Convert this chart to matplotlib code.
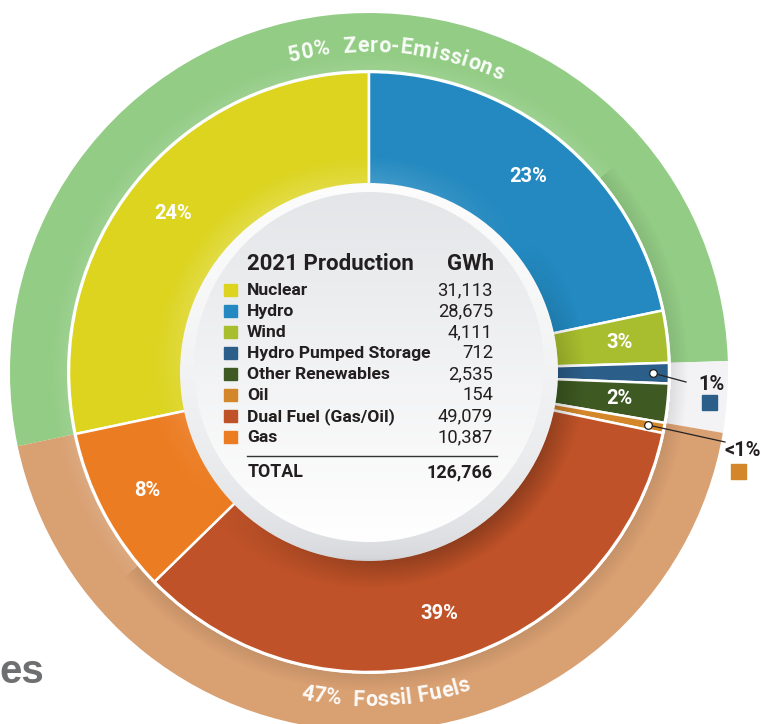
import numpy as np
import matplotlib
matplotlib.use("Agg")
import matplotlib.pyplot as plt
from matplotlib.patches import Circle, Rectangle
from matplotlib.font_manager import FontProperties

W, H = 761, 724

# table values as printed in the chart
sources = ["Nuclear", "Hydro", "Wind", "Hydro Pumped Storage", "Other Renewables",
           "Oil", "Dual Fuel (Gas/Oil)", "Gas"]
gwh = [31113, 28675, 4111, 712, 2535, 154, 49079, 10387]
total_gwh = 126766
pct_labels = ["24%", "23%", "3%", "1%", "2%", "<1%", "39%", "8%"]
# how much of the ring each slice takes in the drawing (%)
slice_share = [28.3, 21.7, 2.8, 1.1, 2.1, 0.55, 34.4, 9.0]
colors = ["#dcd41e", "#2389c0", "#a8be2e", "#2c5e8a", "#3e5a22",
          "#d4862a", "#bf5228", "#ec7c22"]
callout = [3, 5]  # slices labelled outside the ring

group_names = ["50%  Zero-Emissions", "", "47%  Fossil Fuels"]
group_members = [[0, 1, 2], [3, 4], [5, 6, 7]]
group_colors = ["#93cc85", "#f3f3f5", "#d9a072"]

TXT = "#231f20"
cx, cy = 369, H - 372

fig = plt.figure(figsize=(W / 100, H / 100), dpi=100)
ax = fig.add_axes([0, 0, 1, 1])

start = 90 + slice_share[0] / sum(slice_share) * 360
ring_share = [sum(slice_share[i] for i in m) for m in group_members]

ring, _ = ax.pie(ring_share, colors=group_colors, radius=359, center=(cx, cy),
                 startangle=start, counterclock=False,
                 wedgeprops=dict(width=57, linewidth=0))
wedges, _ = ax.pie(slice_share, colors=colors, radius=300, center=(cx, cy),
                   startangle=start, counterclock=False,
                   wedgeprops=dict(edgecolor="white", linewidth=1.8))

# shading: shadow at inner edge of ring, light/shadow band round the centre disk
yy, xx = np.mgrid[0:H, 0:W] + 0.5
dx, dy = xx - cx, yy - cy
rr = np.hypot(dx, dy)
th = np.arctan2(dy, dx)
ov = np.zeros((H, W, 4))
light = np.cos(th - np.deg2rad(130))
fade = np.clip(1 - (rr - 189) / 28, 0, 1) * (rr >= 189)
lit = light > 0
ov[..., :3] = np.where(lit[..., None], 1.0, 0.0)
ov[..., 3] = np.where(lit, 0.18 * light, 0.26 * -light) * fade
rs = np.clip(1 - (rr - 302) / 18, 0, 1) * (rr >= 302) * (rr <= 359)
ov[..., 3] = np.maximum(ov[..., 3], 0.09 * rs)
ax.imshow(ov, extent=(0, W, 0, H), origin="lower", zorder=2, interpolation="bilinear")

# percent labels
for w, lab, i in zip(wedges, pct_labels, range(len(wedges))):
    mid = np.deg2rad((w.theta1 + w.theta2) / 2)
    if i in callout:
        continue
    ax.text(cx + 252 * np.cos(mid), cy + 252 * np.sin(mid), lab, color="white",
            fontsize=14.5, weight="bold", family="Roboto", ha="center", va="center", zorder=5)

# callouts for the thin slices
ends = [(686, H - 382), (725, H - 442)]
text_pos = [(711, H - 390), (743, H - 456)]
sq_pos = [(702, H - 410), (731, H - 479)]
for k, i in enumerate(callout):
    w = wedges[i]
    mid = np.deg2rad((w.theta1 + w.theta2) / 2)
    px, py = cx + 284 * np.cos(mid), cy + 284 * np.sin(mid)
    ax.plot([px, ends[k][0]], [py, ends[k][1]], color="#222222", lw=0.9, zorder=6)
    ax.plot(px, py, "o", ms=5.5, mfc="white", mec="#222222", mew=0.9, zorder=7)
    ax.text(*text_pos[k], pct_labels[i], color=TXT, fontsize=14.5, weight="bold",
            family="Roboto", ha="center", va="baseline", zorder=6)
    ax.add_patch(Rectangle(sq_pos[k], 15, 15, color=colors[i], zorder=6))

# ring titles along the arc
rend = fig.canvas.get_renderer()


def arc_text(s, r, center_deg, top, fs, track=0.0):
    fp = FontProperties(family="Roboto", weight="bold", size=fs)
    base = rend.get_text_width_height_descent("ll", fp, ismath=False)[0]
    adv = [rend.get_text_width_height_descent("l" + c + "l", fp, ismath=False)[0] - base + track
           for c in s]
    total = sum(adv)
    pos = np.cumsum([0] + adv[:-1]) + np.array(adv) / 2 - total / 2
    for c, p in zip(s, pos):
        d = np.rad2deg(p / r)
        a = center_deg - d if top else center_deg + d
        ar = np.deg2rad(a)
        rot = a - 90 if top else a + 90
        ax.text(cx + r * np.cos(ar), cy + r * np.sin(ar), c, fontproperties=fp,
                color="white", alpha=0.95, rotation=rot, rotation_mode="anchor",
                ha="center", va="baseline", zorder=5)


arc_text(group_names[0], 320, 85, True, 15.5, 0.6)
arc_text(group_names[2], 334, -87, False, 15.5, 0.4)

# centre disk
grad = np.linspace(0, 1, 256)[:, None, None]
rim_bot, rim_top = np.array([0.80, 0.81, 0.83]), np.array([0.99, 0.99, 0.99])
face_bot, face_top = np.array([1.0, 1.0, 1.0]), np.array([0.895, 0.90, 0.91])
rim = rim_bot + (rim_top - rim_bot) * grad ** 0.35
face = face_bot + (face_top - face_bot) * grad
R1, R2 = 189, 175
im1 = ax.imshow(rim, extent=(cx - R1, cx + R1, cy - R1, cy + R1), origin="lower",
                zorder=6, interpolation="bilinear")
im1.set_clip_path(Circle((cx, cy), R1, transform=ax.transData))
fy = cy + 5
im2 = ax.imshow(face, extent=(cx - R2, cx + R2, fy - R2, fy + R2), origin="lower",
                zorder=7, interpolation="bilinear")
im2.set_clip_path(Circle((cx, fy), R2, transform=ax.transData))

# table
ax.text(247, H - 270, "2021 Production", fontsize=16, weight="bold", family="Roboto",
        color=TXT, va="baseline", zorder=8)
ax.text(494, H - 270, "GWh", fontsize=16, weight="bold", family="Roboto",
        color=TXT, ha="right", va="baseline", zorder=8)
for i, (name, val, col) in enumerate(zip(sources, gwh, colors)):
    yb = H - (295 + 21 * i)
    ax.add_patch(Rectangle((224, yb - 1), 12.5, 12.5, color=col, zorder=8))
    ax.text(247, yb, name, fontsize=12.6, weight="bold", family="Roboto", color=TXT,
            va="baseline", zorder=8)
    ax.text(493, yb, f"{val:,}", fontsize=13.2, family="Roboto", color=TXT,
            ha="right", va="baseline", zorder=8)
ax.plot([247, 497], [H - 456, H - 456], color="#333333", lw=1.0, zorder=8)
ax.text(248, H - 477, "TOTAL", fontsize=12.8, weight="bold", family="Roboto", color=TXT,
        va="baseline", zorder=8)
ax.text(493, H - 477, f"{total_gwh:,}", fontsize=13, weight="bold", family="Roboto",
        color=TXT, ha="right", va="baseline", zorder=8)

# cut-off heading at the left edge of the page
ax.text(-1, H - 683, "es", fontsize=29, weight="bold", family="Liberation Sans",
        color="#6e6f71", va="baseline")

ax.set_xlim(0, W)
ax.set_ylim(0, H)
ax.set_aspect("auto")
ax.axis("off")
fig.savefig("out.png", dpi=100, facecolor="white")
